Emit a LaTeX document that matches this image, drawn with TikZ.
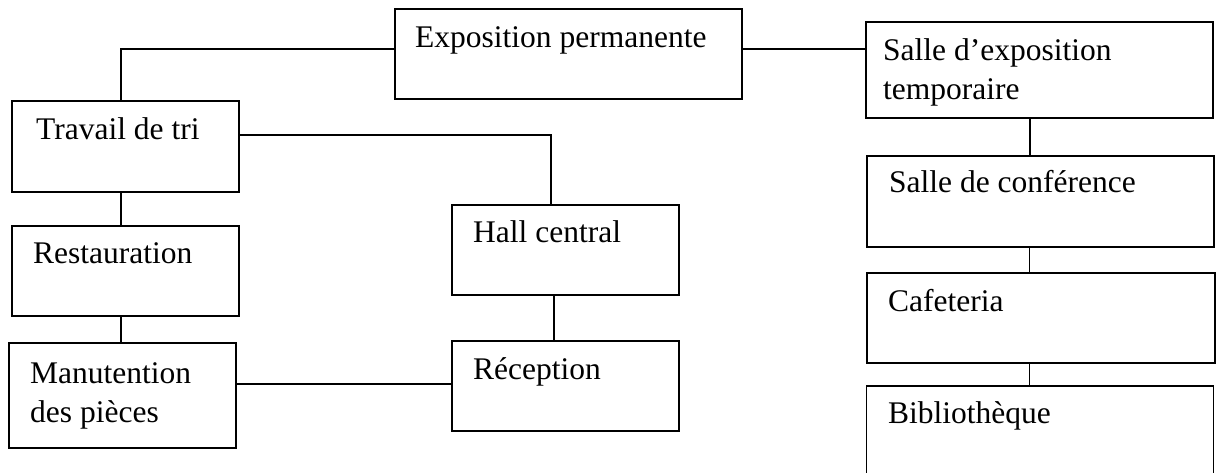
\documentclass[tikz,border=0pt]{standalone}
\usepackage{fontspec}
\setmainfont{Liberation Serif}
\begin{document}
\begin{tikzpicture}[x=1pt,y=-1pt,
  box/.style={draw=black,line width=1.2pt,rectangle,inner sep=0pt,minimum width=227pt,minimum height=90pt},
  wbox/.style={box,minimum width=347pt},
  lbl/.style={anchor=base west,inner sep=0pt,align=left,font=\fontsize{31.5}{39}\selectfont},
  conn/.style={draw=black,line width=1.2pt},
  thick conn/.style={draw=black,line width=2pt}]
\useasboundingbox (0,0) rectangle (1216,473);
% boxes
\node[wbox] (expo) at (568.5,54) {};
\node[wbox,minimum height=96pt] (temp) at (1039.5,70) {};
\node[wbox,minimum height=91pt] (conf) at (1040.5,201.5) {};
\node[wbox,minimum width=348pt] (cafe) at (1041,318) {};
\node[wbox,minimum height=94pt] (bib) at (1040,433) {};
\node[box,minimum height=91pt] (trav) at (125.5,146.5) {};
\node[box] (rest) at (125.5,271) {};
\node[box,minimum height=105pt] (manu) at (122.5,395.5) {};
\node[box] (hall) at (565.5,250) {};
\node[box] (recp) at (565.5,386) {};
% labels (base anchor of a multi-line node is the last line's baseline)
\node[lbl] (expoT) at (415,48) {Exposition permanente};
\node[lbl] (tempT) at (883,100) {Salle d’exposition\\temporaire};
\node[lbl] (confT) at (889,193) {Salle de conférence};
\node[lbl] (cafeT) at (888,312) {Cafeteria};
\node[lbl] (bibT) at (888,423) {Bibliothèque};
\node[lbl] (travT) at (36,140) {Travail de tri};
\node[lbl] (restT) at (33,264) {Restauration};
\node[lbl] (manuT) at (30,422) {Manutention\\des pièces};
\node[lbl] (hallT) at (473,243) {Hall central};
\node[lbl] (recpT) at (473,379) {Réception};
% connectors
\draw[conn] ([xshift=-4.5pt]trav.north) |- ([yshift=5pt]expo.west);
\draw[conn] ([yshift=5pt]expo.east) -- ([yshift=5pt]expo.east -| temp.west);
\draw[conn] ([yshift=11.5pt]trav.east) -| ([xshift=-14.5pt]hall.north);
\draw[conn] ([xshift=-4.5pt]trav.south) -- ([xshift=-4.5pt]trav.south |- rest.north);
\draw[conn] ([xshift=-4.5pt]rest.south) -- ([xshift=-4.5pt]rest.south |- manu.north);
\draw[conn] ([yshift=11.5pt]manu.east) -- ([yshift=11.5pt]manu.east -| recp.west);
\draw[thick conn] ([xshift=-11.5pt]hall.south) -- ([xshift=-11.5pt]hall.south |- recp.north);
\draw[conn] ([xshift=-9.5pt]temp.south) -- ([xshift=-9.5pt]temp.south |- conf.north);
\draw[conn] ([xshift=-11pt]conf.south) -- ([xshift=-11pt]conf.south |- cafe.north);
\draw[conn] ([xshift=-11.5pt]cafe.south) -- ([xshift=-11.5pt]cafe.south |- bib.north);
\end{tikzpicture}
\end{document}
